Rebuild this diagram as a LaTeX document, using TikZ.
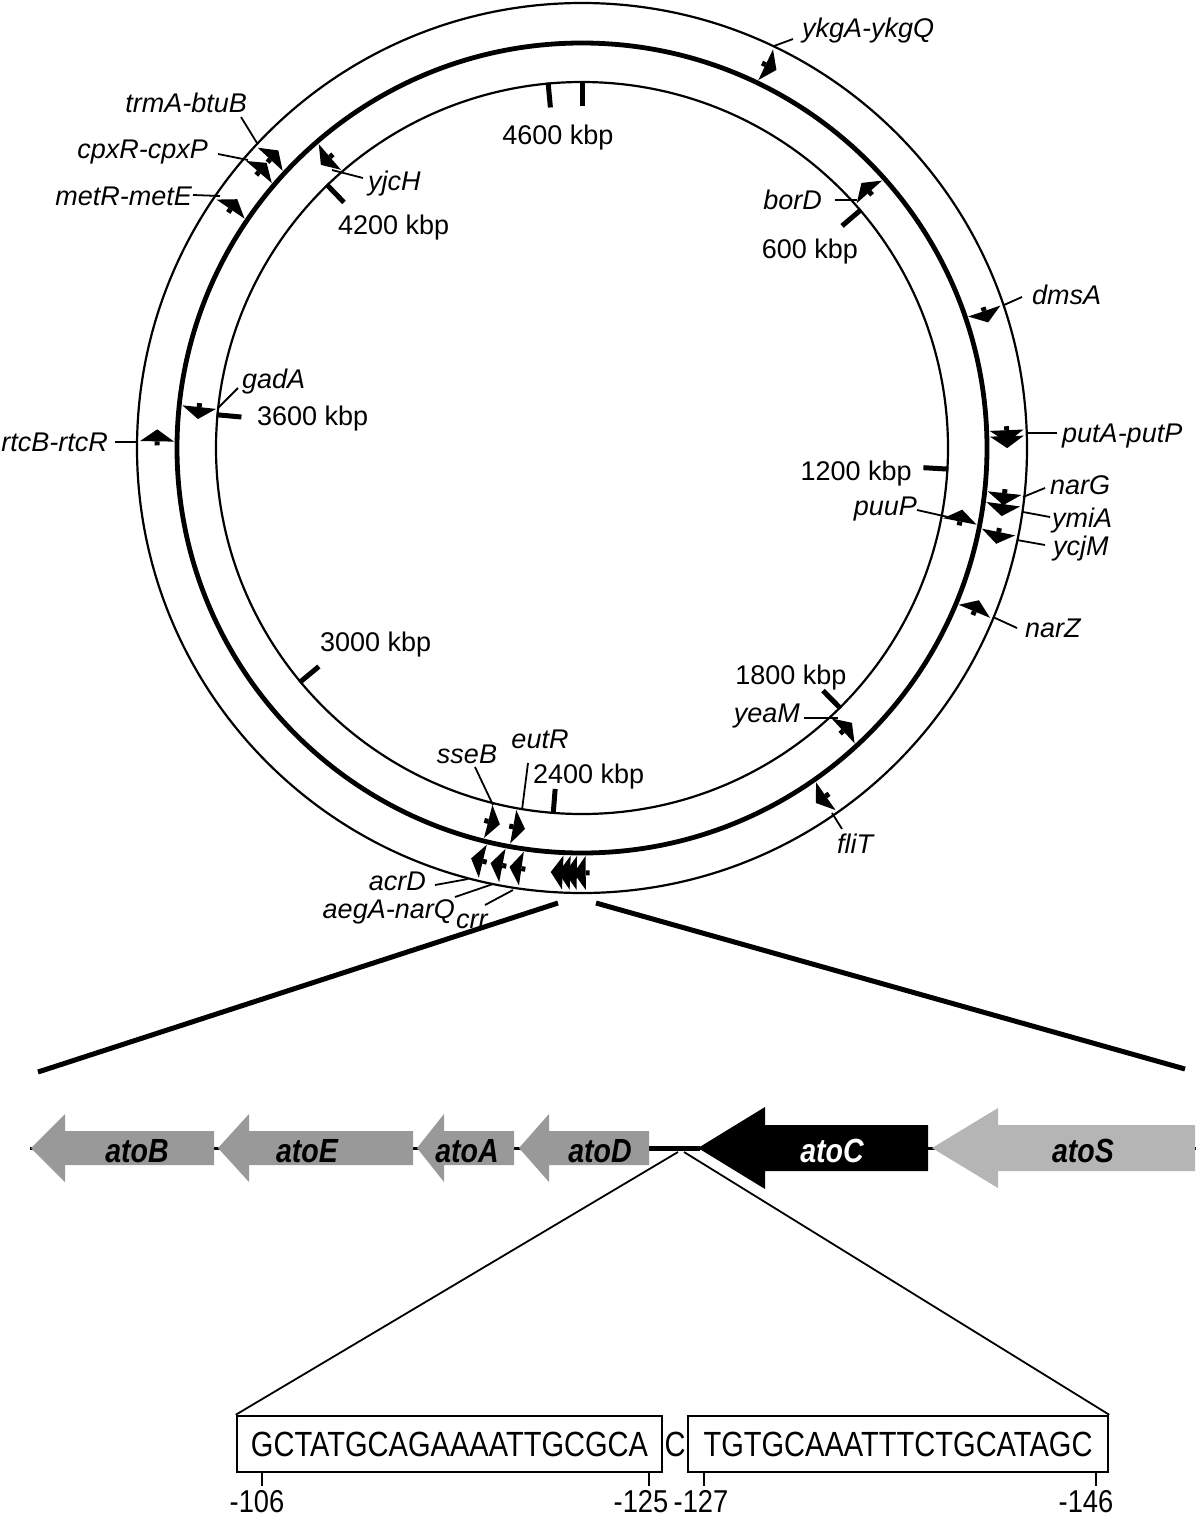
\documentclass[tikz,border=0pt]{standalone}
\usepackage{fontspec}
\usepackage{graphicx}
\setmainfont{Liberation Sans}
\usetikzlibrary{calc}
\definecolor{genegray}{gray}{0.6}
\definecolor{genelight}{gray}{0.71}
\begin{document}
\begin{tikzpicture}[x=1pt,y=1pt,
  lab/.style={font=\fontsize{27}{30}\selectfont\itshape, inner sep=0pt},
  kbp/.style={font=\fontsize{27}{30}\selectfont, inner sep=0pt},
  leader/.style={line width=1.8pt},
  ticke/.style={line width=5pt},
  ring/.style={line width=2.2pt},
  thickring/.style={line width=4.8pt},
  zoomline/.style={line width=5pt},
  thinline/.style={line width=1.8pt},
  genelab/.style={font=\fontsize{31}{34}\selectfont\bfseries\itshape, inner sep=0pt},
  seqbox/.style={draw, line width=2.5pt, inner sep=0pt, minimum height=56pt,
                 font=\fontsize{35}{40}\selectfont},
  numlab/.style={font=\fontsize{31}{34}\selectfont, inner sep=0pt}]
\useasboundingbox (0,0) rectangle (1200,-1521);
\coordinate (C) at (582,-448);
% circles
\draw[ring] (C) circle (445);
\draw[thickring] (C) circle (405);
\draw[ring] (C) circle (366);
% kbp ticks
\foreach \ph in {354.7, 0, 49.5, 93.3, 135.2, 184.5, 230.3, 275.2, 315.9}
  \draw[ticke] ($(C)+({90-\ph}:367)$) -- ($(C)+({90-\ph}:342)$);
% gene markers, outer ring
\foreach \ph/\dd in {25.6/-1, 71.2/-1, 87.6/-1, 88.4/-1, 96.1/-1, 97.6/-1, 101.4/-1, 112.6/1,
   145.0/-1, 193.5/-1, 190.8/-1, 188.2/-1, 182.6/-1, 181.6/-1, 180.7/-1, 179.5/-1,
   270.9/-1, 304.2/-1, 310.5/-1, 312.8/-1} {
  \pgfmathsetmacro\rot{90-\ph}
  \begin{scope}[shift={(C)}, rotate=\rot]
    \fill (408,0) -- (442,0) -- (425,{\dd*12}) -- cycle;
    \fill (422.5,0) rectangle (427.5,{-\dd*4});
  \end{scope}
}
% gene markers, inner ring
\foreach \ph/\dd in {48.3/1, 101.0/1, 137.3/1, 194.1/1, 190.3/1, 276.1/1, 319.1/1} {
  \pgfmathsetmacro\rot{90-\ph}
  \begin{scope}[shift={(C)}, rotate=\rot]
    \fill (368,0) -- (402,0) -- (385,{\dd*12}) -- cycle;
    \fill (382.5,0) rectangle (387.5,{-\dd*4});
  \end{scope}
}
% labels
\node[lab, anchor=base west] (Lykg) at (802,-37) {ykgA-ykgQ};
\node[lab, anchor=base east] (Lbor) at (822,-209) {borD};
\node[kbp, anchor=base] (K600) at (810,-258) {600 kbp};
\node[lab, anchor=base west] (Ldms) at (1032,-304) {dmsA};
\node[lab, anchor=base west] (Lput) at (1062,-442) {putA-putP};
\node[kbp, anchor=base east] (K1200) at (912,-480) {1200 kbp};
\node[lab, anchor=base west] (LnarG) at (1050,-494) {narG};
\node[lab, anchor=base west] (Lymi) at (1052,-527) {ymiA};
\node[lab, anchor=base west] (Lycj) at (1053,-555) {ycjM};
\node[lab, anchor=base east] (Lpuu) at (917,-515) {puuP};
\node[lab, anchor=base west] (LnarZ) at (1025,-637) {narZ};
\node[kbp, anchor=base] (K1800) at (791,-684) {1800 kbp};
\node[lab, anchor=base east] (Lyea) at (800,-722) {yeaM};
\node[lab, anchor=base west] (Lfli) at (837,-853) {fliT};
\node[kbp, anchor=base west] (K2400) at (533,-783) {2400 kbp};
\node[lab, anchor=base] (Lsse) at (467,-763) {sseB};
\node[lab, anchor=base] (Leut) at (540,-748) {eutR};
\node[lab, anchor=base east] (Lacr) at (426,-890) {acrD};
\node[lab, anchor=base east] (Laeg) at (455,-918) {aegA-narQ};
\node[lab, anchor=base west] (Lcrr) at (456,-928) {crr};
\node[kbp, anchor=base west] (K3000) at (320,-651) {3000 kbp};
\node[kbp, anchor=base west] (K3600) at (257,-425) {3600 kbp};
\node[lab, anchor=base west] (Lgad) at (242,-388) {gadA};
\node[lab, anchor=base east] (Lrtc) at (108,-451) {rtcB-rtcR};
\node[lab, anchor=base east] (Lmet) at (192,-205) {metR-metE};
\node[lab, anchor=base east] (Lcpx) at (208,-158) {cpxR-cpxP};
\node[lab, anchor=base east] (Ltrm) at (247,-112) {trmA-btuB};
\node[lab, anchor=base west] (Lyjc) at (368,-190) {yjcH};
\node[kbp, anchor=base west] (K4200) at (338,-234) {4200 kbp};
\node[kbp, anchor=base] (K4600) at (558,-144) {4600 kbp};
% leader lines
\foreach \n/\a/\b/\c/\d in {ykg/793/39/774/46, bor/835/200/857/200, dms/1022/297/1004/305,
   put/1057/433/1027/433, narG/1045/488/1023/497, ymi/1050/517/1023/512,
   ycj/1045/545/1017/540, puu/917/510/948/517, narZ/1017/628/993/617,
   yea/804/718/838/718, fli/842/829/832/813, sse/475/767/493/805,
   eut/528/763/522/810, acr/435/885/468/879, aeg/455/897/493/884,
   crr/485/905/513/890, gad/238/388/218/408, rtc/115/442/137/442,
   met/193/195/220/196, cpx/218/154/248/160, trm/241/117/257/143,
   yjc/363/178/332/170} {
  \coordinate (s\n) at (\a,-\b);
  \coordinate (e\n) at (\c,-\d);
  \draw[leader] (s\n) -- (e\n);
}
% zoom lines to the gene map
\coordinate (zA) at (558,-903);
\coordinate (zB) at (38,-1072);
\coordinate (zC) at (596,-903);
\coordinate (zD) at (1185,-1069);
\draw[zoomline] (zA) -- (zB);
\draw[zoomline] (zC) -- (zD);
% backbone
\coordinate (bbL) at (30,-1148);
\coordinate (bbR) at (1196,-1148);
\coordinate (prL) at (649,-1148);
\coordinate (prR) at (700,-1148);
\draw[line width=3pt] (bbL) -- (bbR);
\draw[line width=5pt] (prL) -- (prR);
% gene arrows: tip, head base, end, head half, body half
\newcommand{\genearrow}[6]{%
  \fill[#6] (#3,-1148+#5) -- (#2,-1148+#5) -- (#2,-1148+#4) -- (#1,-1148)
     -- (#2,-1148-#4) -- (#2,-1148-#5) -- (#3,-1148-#5) -- cycle;}
\genearrow{31}{65}{214}{34}{17}{genegray}
\genearrow{218}{249}{413}{34}{17}{genegray}
\genearrow{417}{444}{514}{34}{17}{genegray}
\genearrow{519}{549}{649}{34}{17}{genegray}
\genearrow{698}{765}{928}{41}{23}{black}
\genearrow{932}{998}{1195}{40}{23}{genelight}
\node[genelab] (atoB) at (137,-1151) {\scalebox{0.92}[1.08]{atoB}};
\node[genelab] (atoE) at (307,-1151) {\scalebox{0.92}[1.08]{atoE}};
\node[genelab] (atoA) at (467,-1151) {\scalebox{0.92}[1.08]{atoA}};
\node[genelab] (atoD) at (600,-1151) {\scalebox{0.92}[1.08]{atoD}};
\node[genelab, text=white] (atoC) at (832,-1151) {\scalebox{0.92}[1.08]{atoC}};
\node[genelab] (atoS) at (1083,-1151) {\scalebox{0.92}[1.08]{atoS}};
% sequence boxes
\node[seqbox, minimum width=425pt] (b1) at (449.5,-1444) {\scalebox{0.83}[1]{GCTATGCAGAAAATTGCGCA}};
\node[seqbox, minimum width=420pt] (b2) at (898,-1444) {\scalebox{0.83}[1]{TGTGCAAATTTCTGCATAGC}};
\node[font=\fontsize{35}{40}\selectfont, inner sep=0pt] (mid) at (675,-1444) {\scalebox{0.83}[1]{C}};
\coordinate (pL) at (678,-1152);
\coordinate (pR) at (684,-1152);
\draw[thinline] (pL) -- (b1.north west);
\draw[thinline] (pR) -- (b2.north east);
% position ticks and numbers
\foreach \xx in {262, 649, 704, 1096}
  \draw[line width=2.5pt] (\xx,-1472) -- (\xx,-1486);
\node[numlab, anchor=base] (n106) at (257,-1512) {\scalebox{0.88}[1.02]{-106}};
\node[numlab, anchor=base] (n125) at (641,-1512) {\scalebox{0.88}[1.02]{-125}};
\node[numlab, anchor=base] (n127) at (701,-1512) {\scalebox{0.88}[1.02]{-127}};
\node[numlab, anchor=base] (n146) at (1086,-1512) {\scalebox{0.88}[1.02]{-146}};
\end{tikzpicture}
\end{document}
